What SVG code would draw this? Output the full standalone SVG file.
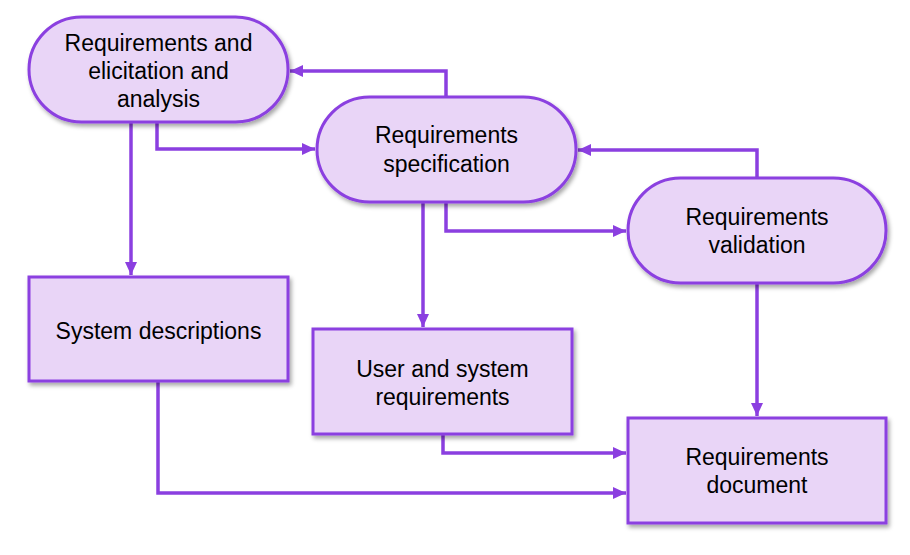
<svg xmlns="http://www.w3.org/2000/svg" width="910" height="555" viewBox="0 0 910 555">
<style>
.node{fill:#E9D5F7;stroke:#8B3FE0;stroke-width:3;filter:url(#sh)}
.lbl{font-family:"Liberation Sans",Arial,sans-serif;font-size:23px;fill:#000;text-anchor:middle}
.conn{fill:none;stroke:#8B3FE0;stroke-width:3.5;marker-end:url(#ah)}
</style>
<defs>
<filter id="sh" x="-10%" y="-10%" width="125%" height="130%">
<feDropShadow dx="2" dy="3" stdDeviation="2" flood-color="#000" flood-opacity="0.35"/>
</filter>
<marker id="ah" markerUnits="userSpaceOnUse" markerWidth="14" markerHeight="14" viewBox="0 0 14 14" refX="13" refY="7" orient="auto">
<path d="M0,1 L13,7 L0,13 Z" fill="#8B3FE0"/>
</marker>
</defs>
<g id="connectors">
<path class="conn" d="M446,97 V71 H290"/>
<path class="conn" d="M157,122 V149 H315"/>
<path class="conn" d="M131,122 V275"/>
<path class="conn" d="M757,178 V150 H578"/>
<path class="conn" d="M446,202 V231 H626"/>
<path class="conn" d="M423,202 V327"/>
<path class="conn" d="M757,283 V416"/>
<path class="conn" d="M443,434 V453 H626"/>
<path class="conn" d="M158,381 V493 H626"/>
</g>
<g id="n1">
<rect class="node" x="29" y="17" width="259" height="105" rx="52.5"/>
<text class="lbl" x="158.5" y="51">Requirements and</text>
<text class="lbl" x="158.5" y="79">elicitation and</text>
<text class="lbl" x="158.5" y="107">analysis</text>
</g>
<g id="n2">
<rect class="node" x="317" y="97" width="259" height="105" rx="52.5"/>
<text class="lbl" x="446.5" y="143">Requirements</text>
<text class="lbl" x="446.5" y="172">specification</text>
</g>
<g id="n3">
<rect class="node" x="628" y="178" width="258" height="105" rx="52.5"/>
<text class="lbl" x="757" y="225">Requirements</text>
<text class="lbl" x="757" y="253">validation</text>
</g>
<g id="n4">
<rect class="node" x="29" y="277" width="259" height="104"/>
<text class="lbl" x="158.5" y="339">System descriptions</text>
</g>
<g id="n5">
<rect class="node" x="313" y="329" width="259" height="105"/>
<text class="lbl" x="442.5" y="377">User and system</text>
<text class="lbl" x="442.5" y="405">requirements</text>
</g>
<g id="n6">
<rect class="node" x="628" y="418" width="258" height="105"/>
<text class="lbl" x="757" y="465">Requirements</text>
<text class="lbl" x="757" y="493">document</text>
</g>
</svg>
